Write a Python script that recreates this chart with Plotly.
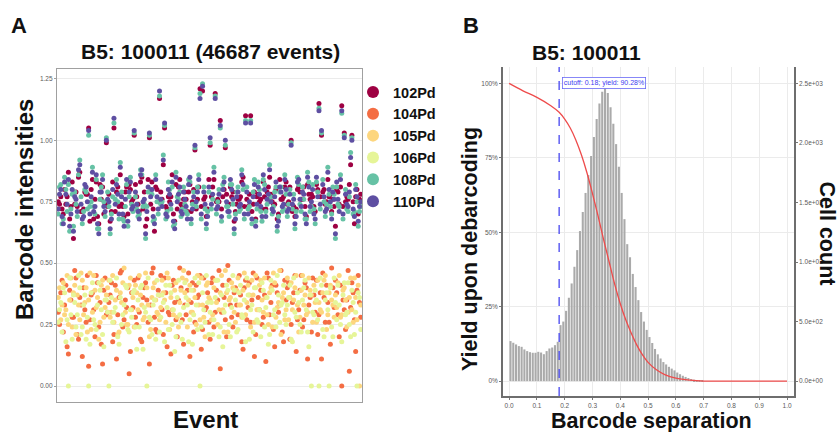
import plotly.graph_objects as go

# ---- panel A: barcode intensities per event (values in hundredths) ----
channels = ["102Pd", "104Pd", "105Pd", "106Pd", "108Pd", "110Pd"]
channel_colors = ["#9E0142", "#F46D43", "#FDD67E", "#E6F598", "#66C2A5", "#5E4FA2"]

# events 1..120
ch102 = [75, 77, 70, 74, 87, 73, 60, 79, 85, 71, 72, 78, 105, 80, 68, 83, 66, 76, 70, 99,
         78, 71, 105, 79, 73, 74, 69, 81, 82, 75, 102, 77, 71, 85, 79, 68, 101, 83, 63, 80,
         117, 76, 105, 72, 75, 86, 67, 72, 84, 73, 79, 71, 82, 75, 96, 76, 121, 120, 77, 72,
         98, 81, 119, 76, 108, 77, 97, 74, 81, 79, 71, 76, 77, 85, 110, 73, 110, 74, 68, 78,
         76, 83, 72, 81, 78, 74, 80, 70, 76, 77, 83, 75, 100, 73, 72, 81, 76, 81, 69, 78,
         78, 73, 82, 115, 102, 80, 75, 77, 71, 73, 80, 74, 114, 103, 77, 82, 102, 66, 80, 76]
ch104 = [30, 38, 22, 41, 13, 35, 28, 44, 19, 33, 40, 26, 8, 37, 31, 45, 24, 17, 39, 29,
         34, 42, 21, 11, 36, 47, 27, 32, 5, 38, 43, 25, 30, 18, 40, 35, 9, 46, 28, 22,
         37, 31, 44, 16, 29, 41, 34, 20, 48, 27, 33, 39, 12, 42, 26, 36, 45, 23, 31, 38,
         19, 44, 30, 35, 7, 41, 27, 49, 33, 24, 40, 29, 37, 15, 43, 32, 26, 46, 21, 36,
         39, 28, 10, 44, 34, 23, 41, 30, 47, 18, 35, 42, 25, 38, 14, 31, 45, 27, 40, 33,
         22, 37, 43, 29, 11, 36, 41, 26, 48, 32, 38, 20, 0, 31, 35, 6, 42, 27, 39, 34]
ch105 = [36, 27, 42, 31, 25, 44, 38, 21, 33, 46, 29, 40, 35, 23, 45, 32, 19, 41, 28, 37,
         43, 30, 26, 39, 22, 34, 48, 25, 41, 31, 24, 38, 45, 33, 28, 40, 20, 36, 42, 30,
         27, 43, 35, 46, 23, 31, 39, 28, 34, 44, 38, 24, 41, 30, 36, 45, 27, 33, 20, 42,
         35, 29, 43, 25, 38, 31, 47, 22, 36, 40, 26, 44, 33, 39, 29, 41, 24, 37, 45, 31,
         43, 30, 36, 25, 40, 46, 28, 34, 21, 38, 31, 27, 42, 35, 45, 22, 39, 33, 29, 44,
         37, 41, 26, 34, 30, 43, 23, 38, 35, 28, 32, 45, 29, 40, 24, 36, 31, 44, 27, 0]
ch106 = [26, 34, 40, 18, 0, 29, 37, 24, 45, 21, 33, 19, 0, 38, 27, 23, 42, 31, 16, 35,
         0, 36, 30, 44, 17, 25, 33, 40, 22, 28, 39, 15, 24, 41, 32, 0, 28, 21, 35, 43,
         22, 37, 18, 32, 41, 25, 14, 36, 29, 19, 42, 33, 27, 17, 44, 23, 0, 38, 26, 34,
         30, 21, 36, 43, 24, 16, 33, 39, 20, 45, 35, 23, 41, 28, 18, 37, 31, 22, 40, 26,
         20, 39, 32, 17, 43, 29, 24, 37, 33, 41, 25, 36, 19, 44, 28, 34, 22, 40, 31, 16,
         0, 29, 35, 0, 41, 20, 38, 0, 24, 44, 27, 33, 18, 42, 30, 25, 39, 21, 0, 36]
ch108 = [70, 82, 68, 80, 82, 72, 65, 74, 86, 77, 71, 79, 102, 75, 73, 84, 64, 81, 75, 101,
         73, 70, 107, 84, 68, 79, 67, 82, 77, 74, 103, 72, 70, 86, 74, 73, 102, 78, 68, 75,
         118, 75, 106, 71, 80, 81, 66, 77, 79, 72, 74, 70, 83, 74, 97, 81, 119, 123, 72, 71,
         99, 76, 118, 75, 105, 82, 98, 73, 82, 74, 70, 81, 72, 80, 108, 72, 108, 79, 67, 83,
         71, 84, 71, 76, 77, 73, 81, 69, 81, 72, 78, 74, 99, 78, 71, 82, 71, 76, 68, 83,
         73, 72, 83, 113, 103, 75, 74, 78, 70, 78, 81, 73, 111, 102, 72, 77, 101, 71, 75, 71]
ch110 = [72, 80, 66, 78, 84, 70, 63, 76, 88, 74, 69, 81, 104, 77, 71, 86, 62, 79, 73, 100,
         75, 68, 109, 82, 70, 77, 65, 84, 79, 72, 104, 74, 68, 88, 76, 71, 103, 80, 66, 77,
         120, 73, 107, 69, 78, 83, 64, 75, 81, 70, 76, 68, 85, 72, 98, 79, 117, 122, 74, 69,
         101, 78, 117, 73, 106, 80, 100, 71, 84, 76, 68, 79, 74, 82, 107, 70, 107, 77, 65, 81,
         73, 86, 69, 78, 75, 71, 83, 67, 79, 74, 80, 72, 98, 76, 69, 84, 73, 78, 66, 81,
         75, 70, 85, 112, 104, 77, 72, 80, 68, 76, 83, 71, 112, 101, 74, 79, 100, 69, 77, 73]

# events 1.5..120.5 (the interleaved half of the sample)
ch102b = [74, 72, 80, 77, 68, 83, 74, 73, 87, 71, 79, 78, 67, 84, 76, 69, 82, 81, 74, 73,
          67, 83, 71, 81, 86, 73, 79, 70, 80, 76, 82, 74, 83, 72, 65, 84, 74, 72, 81, 75,
          79, 90, 73, 77, 77, 70, 82, 81, 74, 76, 76, 79, 71, 80, 72, 81, 73, 76, 69, 84,
          77, 84, 75, 75, 72, 80, 78, 74, 77, 67, 74, 76, 83, 73, 76, 78, 71, 79, 77, 75,
          72, 77, 79, 85, 75, 74, 68, 84, 76, 81, 74, 81, 71, 69, 80, 79, 76, 73, 82, 76,
          77, 71, 80, 77, 79, 74, 84, 78, 76, 65, 79, 81, 73, 75, 76, 90, 75, 77, 70, 78]
ch104b = [25, 43, 33, 16, 39, 28, 47, 21, 36, 12, 31, 45, 27, 38, 20, 42, 34, 9, 44, 30,
          37, 18, 41, 29, 46, 24, 35, 40, 14, 32, 28, 44, 19, 36, 42, 26, 33, 48, 23, 39,
          45, 21, 38, 30, 13, 43, 27, 35, 40, 17, 29, 46, 34, 22, 41, 37, 15, 44, 32, 26,
          42, 24, 39, 47, 30, 36, 20, 43, 28, 38, 33, 45, 18, 40, 27, 42, 35, 12, 44, 31,
          25, 37, 46, 29, 41, 16, 38, 33, 22, 43, 40, 19, 34, 45, 27, 39, 24, 42, 11, 36,
          44, 30, 21, 38, 46, 26, 34, 17, 40, 43, 29, 41, 35, 23, 47, 32, 38, 14, 45, 28]
ch105b = [40, 33, 29, 45, 35, 24, 41, 37, 27, 43, 34, 22, 46, 30, 39, 36, 26, 43, 32, 40,
          28, 45, 35, 21, 38, 42, 30, 25, 44, 36, 41, 31, 37, 27, 46, 33, 23, 40, 35, 29,
          32, 38, 26, 44, 36, 29, 42, 24, 39, 47, 43, 35, 30, 39, 25, 33, 44, 28, 41, 36,
          27, 40, 34, 31, 45, 22, 38, 35, 42, 30, 39, 33, 28, 46, 34, 37, 43, 26, 31, 41,
          35, 44, 29, 38, 24, 42, 32, 47, 36, 27, 44, 36, 31, 40, 33, 28, 45, 37, 30, 39,
          26, 34, 43, 31, 38, 45, 29, 41, 33, 37, 42, 28, 39, 35, 30, 44, 26, 36, 41, 33]
ch106b = [31, 22, 38, 27, 44, 19, 34, 29, 40, 24, 37, 28, 17, 42, 25, 33, 39, 21, 35, 30,
          43, 26, 32, 20, 36, 29, 41, 23, 31, 38, 24, 35, 40, 15, 30, 44, 27, 33, 19, 37,
          28, 34, 41, 23, 38, 31, 20, 43, 26, 32, 36, 18, 39, 29, 33, 42, 24, 31, 45, 21,
          34, 27, 43, 20, 37, 30, 41, 25, 32, 39, 22, 38, 29, 35, 44, 19, 33, 40, 27, 31,
          42, 24, 36, 21, 39, 31, 45, 26, 34, 29, 33, 41, 18, 30, 38, 25, 35, 43, 22, 37,
          30, 39, 27, 44, 23, 35, 31, 40, 20, 34, 41, 25, 37, 29, 42, 20, 34, 30, 38, 23]
ch108b = [81, 66, 85, 71, 63, 78, 79, 69, 92, 66, 80, 72, 73, 89, 70, 64, 76, 86, 69, 79,
          62, 77, 76, 75, 91, 68, 73, 65, 85, 71, 77, 69, 88, 73, 60, 79, 80, 67, 86, 70,
          74, 94, 68, 83, 72, 65, 87, 76, 69, 81, 71, 84, 66, 79, 73, 86, 68, 81, 64, 79,
          72, 89, 70, 80, 67, 85, 73, 69, 82, 62, 79, 71, 88, 68, 81, 73, 66, 84, 72, 80,
          67, 82, 74, 90, 70, 79, 63, 79, 71, 86, 69, 80, 72, 64, 85, 74, 81, 68, 87, 71,
          82, 66, 79, 72, 84, 69, 89, 73, 81, 60, 74, 86, 68, 80, 71, 95, 70, 82, 65, 73]
ch110b = [78, 69, 83, 74, 65, 80, 77, 71, 90, 68, 82, 75, 70, 87, 73, 66, 79, 84, 71, 76,
          64, 80, 74, 78, 89, 70, 76, 67, 83, 73, 79, 71, 86, 75, 62, 81, 77, 69, 84, 72,
          76, 92, 70, 80, 74, 67, 85, 78, 71, 79, 73, 82, 68, 77, 75, 84, 70, 79, 66, 81,
          74, 87, 72, 78, 69, 83, 75, 71, 80, 64, 77, 73, 86, 70, 79, 75, 68, 82, 74, 78,
          69, 80, 76, 88, 72, 77, 65, 81, 73, 84, 71, 78, 74, 66, 83, 76, 79, 70, 85, 73,
          80, 68, 77, 74, 82, 71, 87, 75, 79, 62, 76, 84, 70, 78, 73, 93, 72, 80, 67, 75]

intensities = [ch102, ch104, ch105, ch106, ch108, ch110]
intensities_b = [ch102b, ch104b, ch105b, ch106b, ch108b, ch110b]

intensity_ticks = [0, 0.25, 0.5, 0.75, 1.0, 1.25]
intensity_labels = ["0.00", "0.25", "0.50", "0.75", "1.00", "1.25"]

# ---- panel B: barcode separation histogram (bin width 0.01 starting at 0) ----
sep_counts = [336, 322, 308, 294, 288, 266, 252, 243, 238, 238,
              246, 240, 226, 252, 274, 282, 302, 330, 470, 500,
              590, 700, 820, 960, 1100, 1260, 1420, 1580, 1730, 1890,
              2050, 2200, 2330, 2430, 2460, 2420, 2300, 2160, 1990, 1800,
              1580, 1360, 1150, 1040, 900, 790, 680, 580, 500, 430,
              370, 320, 270, 225, 190, 160, 140, 120, 105, 90,
              72, 58, 45, 35, 26, 18, 12, 7, 4, 2]

yield_sep = [0, 0.05, 0.10, 0.15, 0.18, 0.20, 0.22, 0.24, 0.26, 0.28, 0.30, 0.32, 0.34,
             0.36, 0.38, 0.40, 0.42, 0.44, 0.46, 0.48, 0.50, 0.53, 0.56, 0.60, 0.65,
             0.70, 0.80, 0.90, 1.00]
yield_frac = [1.000, 0.975, 0.953, 0.925, 0.903, 0.88, 0.85, 0.81, 0.76, 0.70, 0.63, 0.555,
              0.475, 0.40, 0.325, 0.26, 0.205, 0.16, 0.12, 0.088, 0.063, 0.038, 0.022,
              0.010, 0.003, 0.0, 0.0, 0.0, 0.0]

cutoff = 0.18
cutoff_yield = 0.9028

count_ticks = [0, 500, 1000, 1500, 2000, 2500]
count_labels = ["0.0e+00", "5.0e+02", "1.0e+03", "1.5e+03", "2.0e+03", "2.5e+03"]
yield_ticks = [0, 0.25, 0.5, 0.75, 1.0]

FONT = "Liberation Sans, Arial, sans-serif"
TICKFONT = dict(family=FONT, size=6.5, color="#5A5A5A")

fig = go.Figure()

for name, color, vals, vals_b in zip(channels, channel_colors, intensities, intensities_b):
    fig.add_trace(go.Scatter(
        x0=1, dx=1, y=[v / 100 for v in vals], mode="markers", name=name,
        marker=dict(color=color, size=5), xaxis="x", yaxis="y", showlegend=True,
    ))
    fig.add_trace(go.Scatter(
        x0=1.5, dx=1, y=[v / 100 for v in vals_b], mode="markers", name=name,
        marker=dict(color=color, size=5), xaxis="x", yaxis="y", showlegend=False,
    ))

fig.add_trace(go.Bar(
    x0=0.005, dx=0.01, y=sep_counts, marker=dict(color="#AAAAAA", line=dict(width=0)),
    xaxis="x2", yaxis="y2", showlegend=False,
))
fig.add_trace(go.Scatter(
    x=yield_sep, y=yield_frac, mode="lines", line=dict(color="#EE4B4B", width=1.3, shape="spline"),
    xaxis="x2", yaxis="y3", showlegend=False,
))

fig.add_shape(type="line", x0=cutoff, x1=cutoff, y0=0, y1=1, xref="x2", yref="y2 domain",
              line=dict(color="#4646F0", width=1.3, dash="dash"))

W, H = 838, 432
def px(x, y):
    return x / W, 1 - y / H

annots = [
    ("<b>A</b>", 18.5, 25.5, 22, 0),
    ("<b>B5: 100011 (46687 events)</b>", 210.5, 52, 21, 0),
    ("<b>B</b>", 471, 25.5, 22, 0),
    ("<b>B5: 100011</b>", 586, 52.5, 21, 0),
    ("<b>Barcode intensities</b>", 24, 210, 24, -90),
    ("<b>Event</b>", 205.5, 419, 24, 0),
    ("<b>Yield upon debarcoding</b>", 470, 249, 21.5, -90),
    ("<b>Barcode separation</b>", 651, 421, 21.5, 0),
    ("<b>Cell count</b>", 827, 233.5, 21.5, 90),
]
for text, x, y, size, ang in annots:
    ax, ay = px(x, y)
    fig.add_annotation(text=text, x=ax, y=ay, xref="paper", yref="paper", showarrow=False,
                       xanchor="center", yanchor="middle", textangle=ang,
                       font=dict(family=FONT, size=size, color="#111111"))

fig.add_annotation(text=f"cutoff: {cutoff}; yield: {cutoff_yield*100:.2f}%", x=cutoff, y=1.0,
                   xref="x2", yref="y3", xanchor="left", yanchor="middle", xshift=3,
                   showarrow=False, font=dict(family=FONT, size=7, color="#3C3CF0"),
                   bordercolor="#6A6AF5", borderwidth=0.8, borderpad=1, bgcolor="white")

fig.update_layout(
    width=W, height=H, margin=dict(l=0, r=0, t=0, b=0),
    paper_bgcolor="white", plot_bgcolor="white",
    font=dict(family=FONT),
    bargap=0.25,
    legend=dict(x=353 / W, y=1 - 76 / H, xanchor="left", yanchor="top",
                font=dict(family=FONT, size=14.5, color="#111111", weight="bold"),
                itemsizing="constant", bgcolor="rgba(0,0,0,0)", tracegroupgap=0),
    xaxis=dict(domain=[57 / W, 362 / W], range=[0.5, 121], showticklabels=False, ticks="",
               showgrid=False, zeroline=False, showline=True, mirror=True,
               linecolor="#A0A0A0", linewidth=1.3),
    yaxis=dict(domain=[1 - 402 / H, 1 - 69 / H], range=[-0.065, 1.29], tickvals=intensity_ticks,
               ticktext=intensity_labels, tickfont=TICKFONT, ticks="outside", ticklen=2,
               tickcolor="#A0A0A0", showgrid=True, gridcolor="#EBEBEB", gridwidth=0.8,
               zeroline=False, showline=True, mirror=True, linecolor="#A0A0A0", linewidth=1.3),
    xaxis2=dict(domain=[503 / W, 794 / W], range=[-0.022, 1.025], anchor="y2", dtick=0.1,
                tick0=0, tickformat=".1f", tickfont=TICKFONT, ticks="outside", ticklen=2,
                tickcolor="#777777", showgrid=True, gridcolor="#EBEBEB", gridwidth=0.8,
                zeroline=False, showline=True, linecolor="#6E6E6E", linewidth=1.6),
    yaxis2=dict(domain=[1 - 396 / H, 1 - 67 / H], range=[-125, 2637.5], anchor="x2", side="right",
                tickvals=count_ticks, ticktext=count_labels, tickfont=TICKFONT, ticks="outside",
                ticklen=2, tickcolor="#777777", showgrid=False, zeroline=False, showline=True,
                linecolor="#6E6E6E", linewidth=1.6),
    yaxis3=dict(range=[-0.05, 1.055], anchor="x2", overlaying="y2", side="left",
                tickvals=yield_ticks, tickformat=".0%", tickfont=TICKFONT, ticks="outside",
                ticklen=2, tickcolor="#777777", showgrid=True, gridcolor="#EBEBEB",
                gridwidth=0.8, zeroline=False, showline=True, linecolor="#6E6E6E", linewidth=1.6),
)

# the page body has a default 8px margin; drop it so the figure sits at the window origin
fig.write_html("out.html", config={"displayModeBar": False},
               post_script="document.body.style.margin='0';")
